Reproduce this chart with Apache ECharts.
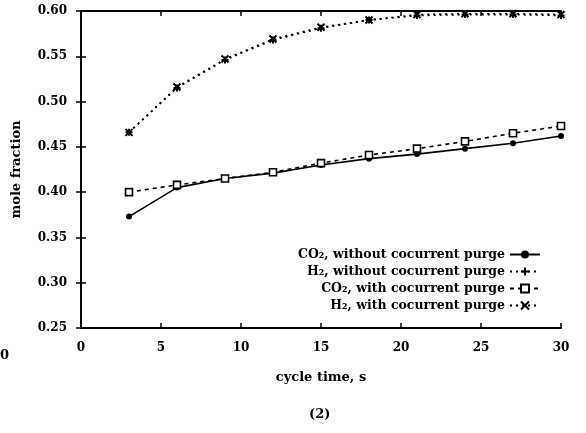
<!DOCTYPE html>
<html><head><meta charset="utf-8">
<script src="https://cdn.jsdelivr.net/npm/echarts@6/dist/echarts.min.js"></script>
<style>html,body{margin:0;padding:0;background:#fff}#c{width:586px;height:433px}</style>
</head><body><div id="c"></div>
<script>
const cycleTime = [3, 6, 9, 12, 15, 18, 21, 24, 27, 30];
const co2Without = [0.373, 0.405, 0.415, 0.421, 0.430, 0.437, 0.442, 0.448, 0.454, 0.462];
const h2Without  = [0.466, 0.515, 0.546, 0.568, 0.581, 0.590, 0.595, 0.596, 0.596, 0.595];
const co2With    = [0.400, 0.408, 0.415, 0.422, 0.432, 0.441, 0.448, 0.456, 0.465, 0.473];
const h2With     = [0.466, 0.516, 0.547, 0.569, 0.582, 0.590, 0.596, 0.597, 0.597, 0.596];
const names = ['CO\u2082, without cocurrent purge','H\u2082, without cocurrent purge','CO\u2082, with cocurrent purge','H\u2082, with cocurrent purge'];
const xTicks = [0, 5, 10, 15, 20, 25, 30];
const yTicks = [0.25, 0.30, 0.35, 0.40, 0.45, 0.50, 0.55, 0.60];

const F = "'DejaVu Serif', 'Liberation Serif', serif";
const pair = a => cycleTime.map((x, i) => [x, a[i]]);
const crossPath = 'path://M0,0L10,10M10,0L0,10';
const plusPath = 'path://M5,0L5,10M0,5L10,5';

const chart = echarts.init(document.getElementById('c'));
const axisCommon = {
  axisLine: {show: true, lineStyle: {color: '#000', width: 2}},
  axisTick: {show: true, inside: true, length: 5, lineStyle: {color: '#000', width: 1.5}},
  splitLine: {show: false}
};
chart.setOption({
  animation: false,
  backgroundColor: '#fff',
  grid: {left: 81, right: 25, top: 11, bottom: 105},
  legend: {
    orient: 'vertical', right: 40, top: 243, align: 'right',
    itemGap: 4, itemWidth: 30, itemHeight: 10,
    textStyle: {fontFamily: F, fontWeight: 'bold', fontSize: 12.5, color: '#000'},
    data: names
  },
  xAxis: [
    Object.assign({type: 'value', min: 0, max: 30, interval: 5, position: 'bottom',
      name: 'cycle time, s', nameLocation: 'middle', nameGap: 43,
      nameTextStyle: {fontFamily: F, fontWeight: 'bold', fontSize: 13, color: '#000'},
      axisLabel: {fontFamily: F, fontWeight: 'bold', fontSize: 12, color: '#000', margin: 14,
        formatter: v => xTicks.includes(v) ? String(v) : ''}}, axisCommon),
    Object.assign({type: 'value', min: 0, max: 30, interval: 5, position: 'top',
      axisLabel: {show: false}}, axisCommon)
  ],
  yAxis: [
    Object.assign({type: 'value', min: 0.25, max: 0.60, interval: 0.05, position: 'left',
      name: 'mole fraction', nameLocation: 'middle', nameGap: 58,
      nameTextStyle: {fontFamily: F, fontWeight: 'bold', fontSize: 13, color: '#000'},
      axisLabel: {fontFamily: F, fontWeight: 'bold', fontSize: 12, color: '#000', margin: 14,
        formatter: v => yTicks.some(t => Math.abs(t - v) < 1e-6) ? v.toFixed(2) : ''}}, axisCommon),
    Object.assign({type: 'value', min: 0.25, max: 0.60, interval: 0.05, position: 'right',
      axisLabel: {show: false}}, axisCommon)
  ],
  series: [
    {name: names[0], type: 'line', data: pair(co2Without), symbol: 'circle', symbolSize: 6,
      itemStyle: {color: '#000'}, lineStyle: {color: '#000', width: 1.6, type: 'solid'}},
    {name: names[1], type: 'line', data: pair(h2Without), symbol: plusPath, symbolSize: 7,
      itemStyle: {color: '#000', borderColor: '#000', borderWidth: 2}, lineStyle: {color: '#000', width: 1.6, type: [2, 4]}},
    {name: names[2], type: 'line', data: pair(co2With), symbol: 'rect', symbolSize: 7,
      itemStyle: {color: '#fff', borderColor: '#000', borderWidth: 1.6}, lineStyle: {color: '#000', width: 1.6, type: [4, 4]}},
    {name: names[3], type: 'line', data: pair(h2With), symbol: crossPath, symbolSize: 7,
      itemStyle: {color: '#000', borderColor: '#000', borderWidth: 2}, lineStyle: {color: '#000', width: 1.6, type: [2, 4]}}
  ],
  graphic: [
    {type: 'text', left: 309, top: 408, style: {text: '(2)', font: "bold 13px " + F, fill: '#000'}},
    {type: 'text', left: -9, top: 349, style: {text: '30', font: "bold 13px " + F, fill: '#000'}}
  ]
});
</script></body></html>
